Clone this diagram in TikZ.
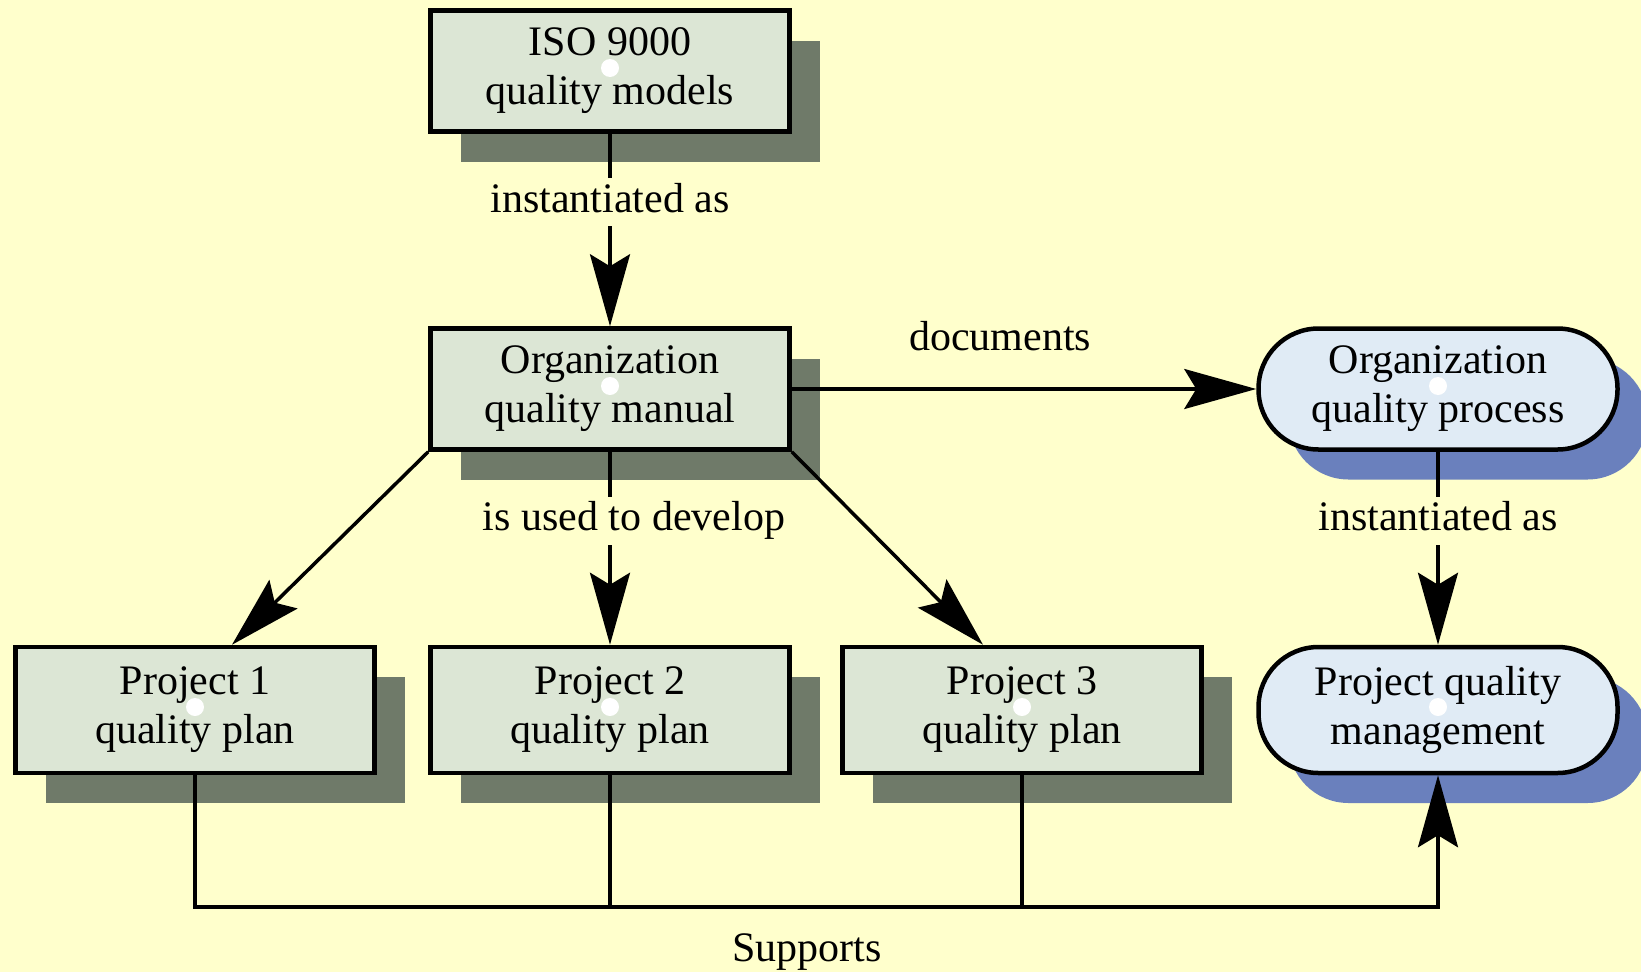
\documentclass[tikz,border=0pt]{standalone}
\usepackage{fontspec}
\setmainfont{Liberation Serif}
\usetikzlibrary{arrows.meta,shadows}
\definecolor{bg}{HTML}{FFFFCC}
\definecolor{boxfill}{HTML}{DCE6D5}
\definecolor{boxshadow}{HTML}{6F7A69}
\definecolor{pillfill}{HTML}{E0EBF5}
\definecolor{pillshadow}{HTML}{6A80BD}
\begin{document}
\begin{tikzpicture}[x=1pt,y=-1pt,
  font=\fontsize{42pt}{49pt}\selectfont,
  basebox/.style={draw=black, line width=4.5pt, minimum width=359pt, minimum height=121pt, align=center},
  box/.style={basebox, fill=boxfill, drop shadow={shadow xshift=30pt, shadow yshift=-30pt, opacity=1, fill=boxshadow}},
  pill/.style={basebox, fill=pillfill, rounded corners=60pt, drop shadow={shadow xshift=30pt, shadow yshift=-30pt, opacity=1, fill=pillshadow}},
  tall/.style={minimum height=126pt},
  conn/.style={line width=3.5pt},
  arr/.style={conn, -{Stealth[length=72pt, width=40pt, inset=12pt]}},
  lbl/.style={fill=bg, inner xsep=3pt, inner ysep=2pt, text height=32pt, text depth=12pt, anchor=base},
  dot/.style={fill=white}
]
\useasboundingbox (0,0) rectangle (1641,972);
\clip (0,0) rectangle (1641,972);
\fill[bg] (0,0) rectangle (1641,972);

\node[box] (iso) at (610,71) {ISO 9000\\quality models};
\node[box] (orgman) at (610,389) {Organization\\quality manual};
\node[box, tall] (p1) at (195,710) {Project 1\\quality plan};
\node[box, tall] (p2) at (610,710) {Project 2\\quality plan};
\node[box, tall] (p3) at (1022,710) {Project 3\\quality plan};
\node[pill] (orgproc) at (1438,389) {Organization\\quality process};
\node[pill, tall] (pqm) at (1438,710) {Project quality\\management};

\foreach \n in {iso,orgman,p1,p2,p3,orgproc,pqm}
  \fill[dot] ([yshift=3pt]\n.center) circle[radius=9pt];

\draw[arr] (iso) -- node[lbl, pos=0.407] {instantiated as} (orgman);
\draw[arr] (orgman) -- node[lbl, pos=0.408, xshift=24pt] {is used to develop} (p2);
\draw[arr] (orgman.south west) -- ([xshift=37pt]p1.north);
\draw[arr] (orgman.south east) -- ([xshift=-39pt]p3.north);
\draw[arr] (orgman) -- node[lbl, pos=0.449, yshift=39pt] {documents} (orgproc);
\draw[arr] (orgproc) -- node[lbl, pos=0.408] {instantiated as} (pqm);

\coordinate (bus) at (1438,907);
\draw[arr] (p1.south) |- (bus) -- (pqm.south);
\draw[conn] (p2.south) -- (p2.south |- bus);
\draw[conn] (p3.south) -- (p3.south |- bus);
\node[anchor=base] (sup) at (807,961) {Supports};
\end{tikzpicture}
\end{document}
